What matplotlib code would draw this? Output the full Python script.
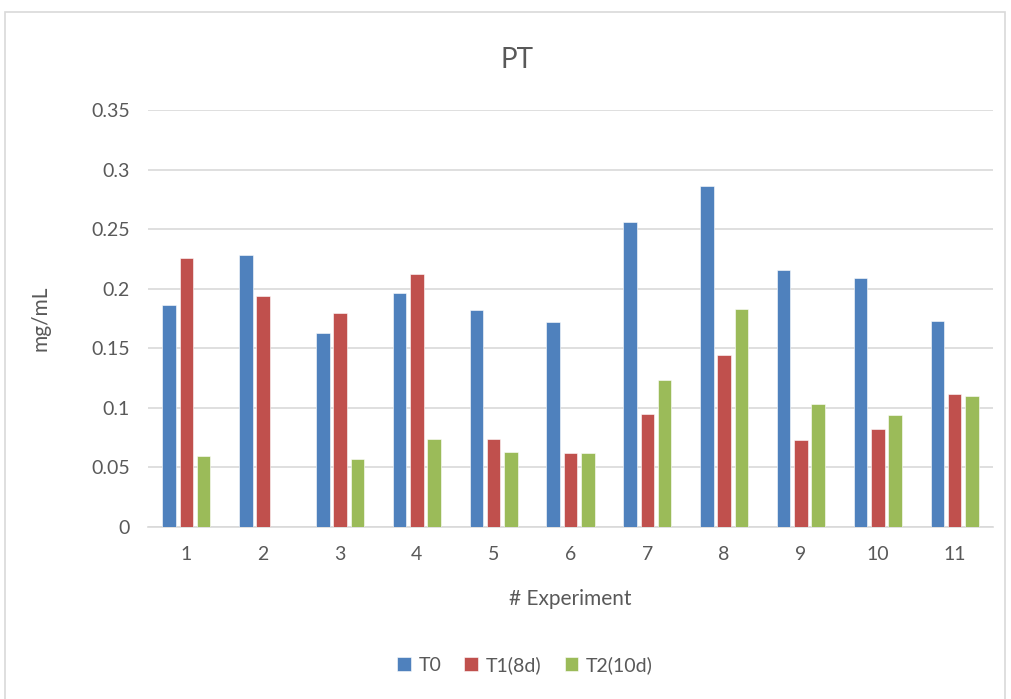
import matplotlib.pyplot as plt
import numpy as np
from matplotlib.patches import Rectangle

# PT concentration per experiment (mg/mL)
experiments = ["1", "2", "3", "4", "5", "6", "7", "8", "9", "10", "11"]
t0 = [0.186, 0.228, 0.163, 0.196, 0.182, 0.172, 0.256, 0.286, 0.216, 0.209, 0.173]
t1_8d = [0.226, 0.194, 0.180, 0.212, 0.074, 0.062, 0.095, 0.144, 0.073, 0.082, 0.112]
t2_10d = [0.060, np.nan, 0.057, 0.074, 0.063, 0.062, 0.123, 0.183, 0.103, 0.094, 0.110]

series = [("T0", t0, "#4f81bd"),
          ("T1(8d)", t1_8d, "#c0504d"),
          ("T2(10d)", t2_10d, "#9bbb59")]

plt.rcParams['font.family'] = ['Lato', 'DejaVu Sans']
text_color = "#595959"

fig = plt.figure(figsize=(10.11, 6.99), dpi=100)
ax = fig.add_axes([148 / 1011, 1 - 527 / 699, 845 / 1011, 417 / 699])

# chart frame
fig.patches.append(Rectangle((5 / 1011, -0.01), 1000 / 1011, 1 - 12 / 699 + 0.01,
                             transform=fig.transFigure, fill=False,
                             edgecolor="#d9d9d9", linewidth=1.2))

x = np.arange(1, len(experiments) + 1)
width = 0.177
step = 0.225
for i, (name, vals, color) in enumerate(series):
    ax.bar(x + (i - 1) * step, vals, width, color=color, label=name,
           edgecolor="white", linewidth=0.4, zorder=3)

ax.set_xlim(0.5, 11.5)
ax.set_ylim(0, 0.35)
ax.set_yticks([0, 0.05, 0.1, 0.15, 0.2, 0.25, 0.3, 0.35])
ax.set_yticklabels(["0", "0.05", "0.1", "0.15", "0.2", "0.25", "0.3", "0.35"])
ax.set_xticks(x)
ax.set_xticklabels(experiments)
ax.grid(axis="y", color="#d9d9d9", linewidth=1.2, zorder=0)
ax.set_axisbelow(True)
for side in ["top", "right", "left"]:
    ax.spines[side].set_visible(False)
ax.spines["bottom"].set_color("#d9d9d9")
ax.spines["bottom"].set_linewidth(1.2)
ax.tick_params(axis="both", length=0, labelsize=14, colors=text_color)
ax.tick_params(axis="x", pad=14)
ax.tick_params(axis="y", pad=13)

fig.text(517 / 1011, 1 - 60 / 699, "PT", fontsize=20, color=text_color,
         ha="center", va="center")
fig.text(570 / 1011, 1 - 599 / 699, "# Experiment", fontsize=15,
         color=text_color, ha="center", va="center")
fig.text(40 / 1011, 1 - 318 / 699, "mg/mL", fontsize=15, color=text_color,
         ha="center", va="center", rotation=90)

leg = fig.legend(loc="center", bbox_to_anchor=(525 / 1011, 1 - 665 / 699),
                 ncol=3, frameon=False, fontsize=14, handlelength=0.7,
                 handleheight=0.7, handletextpad=0.4, columnspacing=1.2)
for t in leg.get_texts():
    t.set_color(text_color)

fig.savefig("out.png", dpi=100)
